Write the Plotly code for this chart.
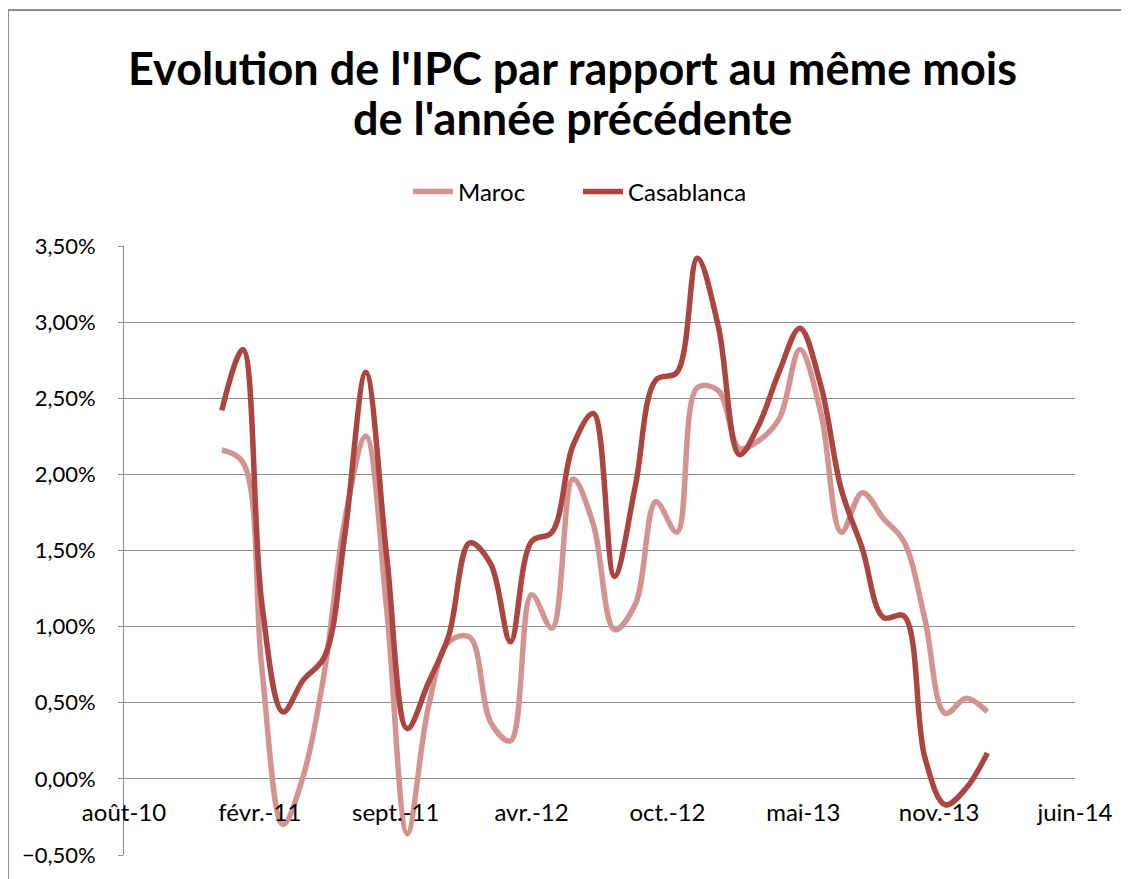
import pandas as pd
import plotly.graph_objects as go

months = pd.date_range("2011-01-01", periods=38, freq="MS")

maroc = [2.16, 2.08, 0.72, -0.30, 0.02, 0.70, 1.70, 2.25, 1.10, -0.36,
         0.47, 0.90, 0.93, 0.37, 0.25, 1.21, 0.99, 1.97, 1.67, 0.98,
         1.15, 1.82, 1.62, 2.57, 2.55, 2.17, 2.22, 2.37, 2.82, 2.40,
         1.62, 1.88, 1.71, 1.56, 1.05, 0.43, 0.53, 0.44]
casablanca = [2.42, 2.82, 1.15, 0.44, 0.65, 0.80, 1.60, 2.67, 1.45, 0.33,
              0.63, 0.94, 1.55, 1.41, 0.90, 1.56, 1.62, 2.19, 2.40, 1.33,
              1.93, 2.62, 2.67, 3.42, 2.97, 2.13, 2.32, 2.68, 2.96, 2.58,
              1.90, 1.51, 1.06, 1.07, 0.14, -0.17, -0.06, 0.17]

x_start = pd.Timestamp("2010-08-10")
tick_step_days = 200
tick_labels = ["août-10", "févr.-11", "sept.-11", "avr.-12", "oct.-12",
               "mai-13", "nov.-13", "juin-14"]
tick_vals = [x_start + pd.Timedelta(days=tick_step_days * i) for i in range(len(tick_labels))]

title_lines = ["Evolution de l'IPC par rapport au même mois",
               "de l'année précédente"]

FONT = "Lato, 'Open Sans', sans-serif"
GRID = "#8c8c8c"

fig = go.Figure()
fig.add_trace(go.Scatter(
    x=months, y=[v / 100 for v in maroc], name="Maroc", mode="lines",
    line=dict(color="#D39391", width=5.5, shape="spline", smoothing=1.0),
))
fig.add_trace(go.Scatter(
    x=months, y=[v / 100 for v in casablanca], name="Casablanca", mode="lines",
    line=dict(color="#AB4542", width=5.5, shape="spline", smoothing=1.0),
))

W, H = 1129, 879
OFF = 8  # page body margin offset
# target plot area in screen pixels: x 124..1075, y 246..855
L = 124 - OFF
T = 246 - OFF
pw, ph = 951, 609
R = W - L - pw
B = H - T - ph

def px_x(x):
    return (x - OFF - L) / pw

def px_y(y):
    return (T + ph - (y - OFF)) / ph

annotations = []
for text, yc in zip(title_lines, [68, 118]):
    annotations.append(dict(
        text="<b>" + text + "</b>", xref="paper", yref="paper",
        x=px_x(572), y=px_y(yc), xanchor="center", yanchor="middle",
        showarrow=False, font=dict(family=FONT, size=45, color="black"),
    ))

fig.update_layout(
    width=W, height=H,
    margin=dict(l=L, r=R, t=T, b=B, autoexpand=False),
    paper_bgcolor="white", plot_bgcolor="white",
    separators=", ",
    font=dict(family=FONT, color="black", size=22),
    showlegend=True,
    legend=dict(orientation="h", x=px_x(578), xanchor="center",
                y=px_y(192), yanchor="middle",
                font=dict(family=FONT, size=24), itemwidth=40,
                entrywidth=115, entrywidthmode="pixels",
                bgcolor="rgba(0,0,0,0)"),
    annotations=annotations,
    xaxis=dict(
        range=[x_start, x_start + pd.Timedelta(days=tick_step_days * 7)],
        tickmode="array", tickvals=tick_vals, ticktext=tick_labels,
        showgrid=False, showline=False, zeroline=False,
        anchor="free", position=px_y(779), automargin=False,
        ticks="outside", ticklen=12, tickcolor="rgba(0,0,0,0)",
        tickfont=dict(family=FONT, size=24),
    ),
    yaxis=dict(
        range=[-0.005, 0.035], dtick=0.005, tick0=0, tickformat=".2%",
        showgrid=True, gridcolor=GRID, gridwidth=1,
        zeroline=True, zerolinecolor=GRID, zerolinewidth=1,
        showline=True, linecolor=GRID, linewidth=1,
        ticks="outside", ticklen=5, tickcolor=GRID,
        ticklabelstandoff=18, automargin=False,
        tickfont=dict(family=FONT, size=22),
    ),
    shapes=[dict(type="rect", xref="paper", yref="paper",
                 x0=px_x(8), x1=px_x(1140), y0=px_y(10), y1=px_y(900),
                 line=dict(color="#8c8c8c", width=2), fillcolor="rgba(0,0,0,0)",
                 layer="below")],
)

fig.write_html("out.html")
